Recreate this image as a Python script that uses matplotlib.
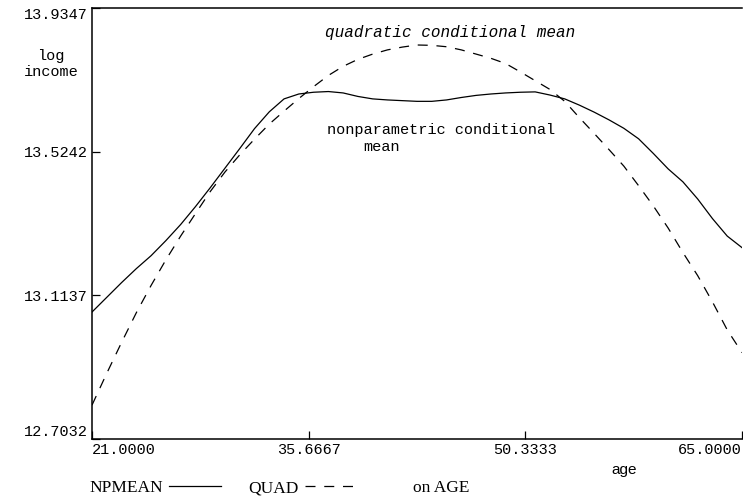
import matplotlib.pyplot as plt

# Age grid and the two fitted conditional means of log income
age = list(range(21, 66))
npmean = [13.066, 13.108, 13.150, 13.190, 13.227, 13.270, 13.316, 13.367,
          13.421, 13.477, 13.533, 13.590, 13.638, 13.675, 13.689, 13.694,
          13.696, 13.692, 13.682, 13.675, 13.672, 13.670, 13.668, 13.668,
          13.672, 13.679, 13.685, 13.689, 13.692, 13.694, 13.695, 13.686,
          13.675, 13.657, 13.637, 13.615, 13.591, 13.561, 13.519, 13.475,
          13.438, 13.389, 13.333, 13.283, 13.250]
quad = [12.800, 12.891, 12.979, 13.064, 13.142, 13.215, 13.283, 13.347,
        13.410, 13.466, 13.515, 13.560, 13.603, 13.640, 13.676, 13.710,
        13.742, 13.768, 13.788, 13.803, 13.815, 13.823, 13.829, 13.828,
        13.824, 13.815, 13.803, 13.791, 13.776, 13.752, 13.727, 13.702,
        13.668, 13.621, 13.576, 13.530, 13.483, 13.427, 13.369, 13.306,
        13.236, 13.170, 13.095, 13.015, 12.950]

xticks = [21.0, 35.6667, 50.3333, 65.0]
yticks = [12.7032, 13.1137, 13.5242, 13.9347]

mono = "Liberation Mono"
serif = "Liberation Serif"

fig = plt.figure(figsize=(7.43, 4.99), dpi=100)
ax = fig.add_axes([92 / 743, 60 / 499, 650 / 743, 431 / 499])

ax.plot(age, npmean, color="black", lw=0.9, label="NPMEAN")
ax.plot(age, quad, color="black", lw=0.9, dashes=(8, 7), label="QUAD")

ax.set_xlim(xticks[0], xticks[-1])
ax.set_ylim(yticks[0], yticks[-1])

ax.set_xticks(xticks)
ax.set_xticklabels([f"{v:.4f}" for v in xticks], fontfamily=mono, fontsize=11)
ax.set_yticks(yticks)
ax.set_yticklabels([f"{v:.4f}" for v in yticks], fontfamily=mono, fontsize=11)
ax.tick_params(direction="in", length=6, width=0.9, pad=3, colors="black")

xl = ax.get_xticklabels()
xl[0].set_ha("left")
xl[-1].set_ha("right")
yl = ax.get_yticklabels()
yl[0].set_va("bottom")
yl[-1].set_va("top")

ax.spines["right"].set_visible(False)
for side in ("left", "bottom", "top"):
    ax.spines[side].set_linewidth(1.1)

# axis titles
fig.text(51 / 743, 1 - 64 / 499, "log\nincome", fontfamily=mono, fontsize=11,
         ha="center", va="center", linespacing=1.1)
fig.text(624 / 743, 1 - 470 / 499, "age", fontfamily="Liberation Sans",
         fontsize=11, ha="center", va="center")

# curve annotations
ax.text(0.551, 0.942, "quadratic conditional mean", transform=ax.transAxes,
        fontfamily=mono, fontsize=11.5, style="italic", ha="center", va="center")
ax.text(0.537, 0.717, "nonparametric conditional", transform=ax.transAxes,
        fontfamily=mono, fontsize=11, ha="center", va="center")
ax.text(0.445, 0.677, "mean", transform=ax.transAxes,
        fontfamily=mono, fontsize=11, ha="center", va="center")

# legend row under the axis
handles, labels = ax.get_legend_handles_labels()
fig.legend(handles, labels, loc="center left",
           bbox_to_anchor=(89 / 743, 1 - 488 / 499), ncol=2, frameon=False,
           markerfirst=False, handlelength=3.0, handletextpad=0.35,
           columnspacing=1.6, borderpad=0, borderaxespad=0,
           prop={"family": serif, "size": 12.5})
fig.text(413 / 743, 1 - 488 / 499, "on AGE", fontfamily=serif, fontsize=12.5,
         ha="left", va="center")

fig.savefig("out.png", dpi=100)
